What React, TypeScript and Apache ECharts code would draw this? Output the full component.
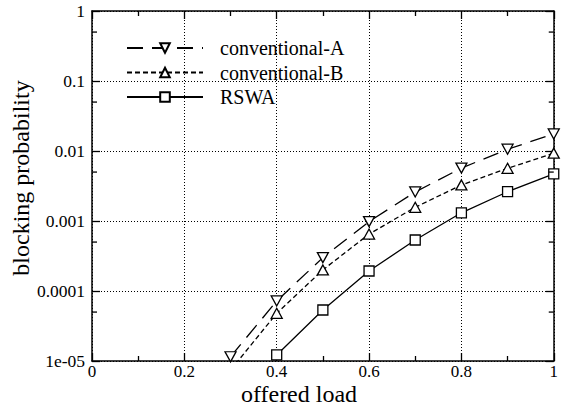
import React, { useEffect, useRef } from "react";
import * as echarts from "echarts";

// Offered load (x) and blocking probability (y) per scheme
const loadsConv = [0.3, 0.4, 0.5, 0.6, 0.7, 0.8, 0.9, 1.0];
const conventionalA = [1.15e-5, 7.2e-5, 3.0e-4, 9.8e-4, 2.6e-3, 5.7e-3, 1.06e-2, 1.75e-2];
const conventionalB = [7.4e-6, 4.8e-5, 2.0e-4, 6.5e-4, 1.57e-3, 3.27e-3, 5.66e-3, 9.3e-3];
const loadsRswa = [0.4, 0.5, 0.6, 0.7, 0.8, 0.9, 1.0];
const rswa = [1.22e-5, 5.35e-5, 1.93e-4, 5.35e-4, 1.31e-3, 2.62e-3, 4.7e-3];

// Decade labels, from 1e-05 up to 1
const yTickLabels = ["1e-05", "0.0001", "0.001", "0.01", "0.1", "1"];
// Minor ticks inside each decade
const yMinorTicks = [5e-5, 5e-4, 5e-3, 5e-2, 5e-1];

const FONT = "'Liberation Serif', 'Times New Roman', serif";

const pairs = (xs: number[], ys: number[]) => xs.map((x, i) => [x, ys[i]]);

export default function App() {
  const ref = useRef<HTMLDivElement>(null);

  useEffect(() => {
    if (!ref.current) return;
    const chart = echarts.init(ref.current, undefined, { renderer: "svg" });

    const axisLine = { show: true, onZero: false, lineStyle: { color: "#000", width: 1.5 } };
    const majorTick = { show: true, inside: true, length: 8, lineStyle: { color: "#000", width: 1.3 } };
    const gridLine = { show: true, lineStyle: { color: "#000", width: 1, type: [1, 2] as number[] } };

    const markerStyle = { color: "#fff", borderColor: "#000", borderWidth: 1.3 };

    chart.setOption({
      animation: false,
      backgroundColor: "#fff",
      grid: { left: 92, right: 1, top: 11, bottom: 46, containLabel: false },
      legend: {
        orient: "vertical",
        left: 126,
        top: 38,
        padding: 0,
        itemWidth: 76,
        itemHeight: 12,
        itemGap: 4.5,
        data: ["conventional-A", "conventional-B", "RSWA"],
        textStyle: {
          fontFamily: FONT,
          fontSize: 20,
          color: "#000",
          lineHeight: 20,
          padding: [0, 0, 0, 12],
        },
      },
      xAxis: [
        {
          type: "value",
          min: 0,
          max: 1,
          interval: 0.2,
          position: "bottom",
          axisLine,
          axisTick: majorTick,
          minorTick: { show: true, splitNumber: 2, length: 5, lineStyle: { color: "#000", width: 1.3 } },
          splitLine: gridLine,
          axisLabel: {
            fontFamily: FONT,
            fontSize: 17,
            color: "#000",
            margin: 2,
            showMinLabel: true,
            showMaxLabel: true,
            formatter: (v: number) => String(Math.round(v * 10) / 10),
          },
        },
        {
          type: "value",
          min: 0,
          max: 1,
          interval: 0.2,
          position: "top",
          axisLine,
          axisTick: majorTick,
          minorTick: { show: true, splitNumber: 2, length: 5, lineStyle: { color: "#000", width: 1.3 } },
          splitLine: { show: false },
          axisLabel: { show: false },
        },
      ],
      yAxis: [
        {
          type: "log",
          logBase: 10,
          min: 1e-5,
          max: 1,
          position: "left",
          axisLine,
          axisTick: majorTick,
          splitLine: gridLine,
          axisLabel: {
            fontFamily: FONT,
            fontSize: 17.5,
            color: "#000",
            margin: 7,
            showMinLabel: true,
            showMaxLabel: true,
            formatter: (v: number) => yTickLabels[Math.round(Math.log10(v)) + 5] ?? "",
          },
        },
        {
          type: "log",
          logBase: 10,
          min: 1e-5,
          max: 1,
          position: "right",
          axisLine,
          axisTick: majorTick,
          splitLine: { show: false },
          axisLabel: { show: false },
        },
      ],
      series: [
        {
          name: "conventional-A",
          type: "line",
          data: pairs(loadsConv, conventionalA),
          symbol: "triangle",
          symbolRotate: 180,
          symbolSize: [11, 10],
          showAllSymbol: true,
          clip: true,
          itemStyle: markerStyle,
          lineStyle: { color: "#000", width: 1.3, type: [16, 9] },
          z: 3,
        },
        {
          name: "conventional-B",
          type: "line",
          data: pairs(loadsConv, conventionalB),
          symbol: "triangle",
          symbolSize: [11, 10],
          showAllSymbol: true,
          clip: true,
          itemStyle: markerStyle,
          lineStyle: { color: "#000", width: 1.3, type: [5, 3] },
          z: 3,
        },
        {
          name: "RSWA",
          type: "line",
          data: pairs(loadsRswa, rswa),
          symbol: "rect",
          symbolSize: 10,
          showAllSymbol: true,
          clip: true,
          itemStyle: markerStyle,
          lineStyle: { color: "#000", width: 1.3, type: "solid" },
          z: 3,
        },
        {
          name: "minor-y",
          type: "custom",
          silent: true,
          clip: false,
          data: yMinorTicks.map((v) => [0, v]),
          renderItem: (_params: any, api: any) => {
            const v = api.value(1);
            const l = api.coord([0, v]);
            const r = api.coord([1, v]);
            const st = { stroke: "#000", lineWidth: 1.3 };
            return {
              type: "group",
              children: [
                { type: "line", shape: { x1: l[0], y1: l[1], x2: l[0] + 5, y2: l[1] }, style: st },
                { type: "line", shape: { x1: r[0], y1: r[1], x2: r[0] - 5, y2: r[1] }, style: st },
              ],
            };
          },
          z: 4,
        },
      ],
      graphic: [
        {
          type: "text",
          x: 299,
          y: 394,
          style: {
            text: "offered load",
            fontFamily: FONT,
            fontSize: 24,
            fill: "#000",
            align: "center",
            verticalAlign: "middle",
          },
        },
        {
          type: "text",
          x: 21,
          y: 178,
          rotation: Math.PI / 2,
          style: {
            text: "blocking probability",
            fontFamily: FONT,
            fontSize: 24,
            fill: "#000",
            align: "center",
            verticalAlign: "middle",
          },
        },
      ],
    });

    return () => chart.dispose();
  }, []);

  return <div ref={ref} style={{ width: 561, height: 407, position: "absolute", left: 0, top: 0 }} />;
}
